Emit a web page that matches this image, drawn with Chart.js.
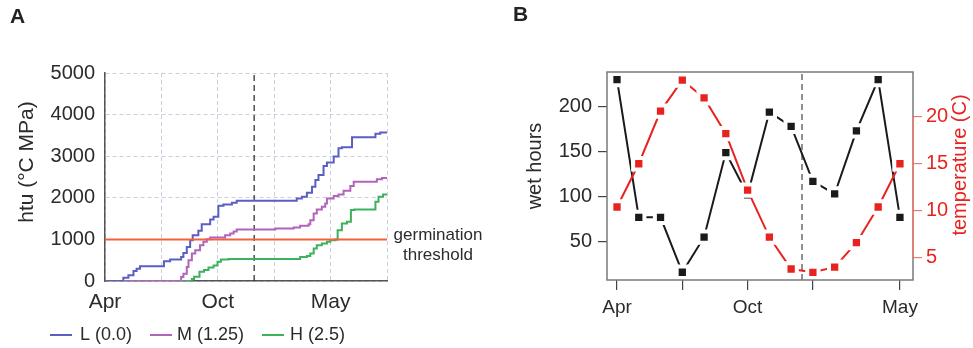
<!DOCTYPE html>
<html>
<head>
<meta charset="utf-8">
<script src="https://cdn.jsdelivr.net/npm/chart.js@4.4.0/dist/chart.umd.min.js"></script>
<style>
  html, body { margin: 0; padding: 0; background: #fff; }
  #wrap { position: relative; width: 973px; height: 348px; }
  #chartA { position: absolute; left: 0; top: 0; }
  #chartB { position: absolute; left: 490px; top: 0; }
</style>
</head>
<body>
<div id="wrap">
  <canvas id="chartA" width="490" height="348"></canvas>
  <canvas id="chartB" width="483" height="348"></canvas>
</div>
<script>
// ---- panel A: cumulative htu, x = position through the season (0..100)
const seasonTicks = [0, 20, 40, 60, 80, 100]
const seasonLabels = ['Apr', '', 'Oct', '', 'May', '']

const htuLx = [0, 6.5, 8.3, 10.1, 11.2, 12.4, 20.9, 23.1, 27.0, 27.8, 29.0, 30.2, 31.1, 33.1, 34.3, 37.3, 38.5, 40.2, 42.0, 45.0, 46.7, 68.0, 69.8, 71.6, 73.4, 74.6, 75.7, 77.5, 78.7, 81.1, 82.8, 84.0, 87.6, 95.9, 97.6, 100]
const htuLy = [0, 80, 137, 241, 297, 354, 475, 515, 579, 675, 820, 980, 1101, 1206, 1367, 1480, 1543, 1809, 1841, 1881, 1930, 1986, 2026, 2122, 2267, 2428, 2548, 2765, 2846, 2991, 3192, 3216, 3457, 3538, 3570, 3570]

const htuMx = [0, 27.0, 27.8, 29.0, 29.6, 30.8, 32.0, 33.7, 34.9, 36.1, 37.3, 42.6, 44.4, 45.6, 46.7, 60.4, 66.9, 69.2, 72.2, 72.8, 74.0, 75.1, 76.9, 78.1, 78.7, 81.1, 82.8, 84.6, 87.0, 88.2, 96.4, 98.2, 100]
const htuMy = [0, 96, 177, 338, 498, 659, 740, 860, 941, 1005, 1045, 1101, 1142, 1190, 1238, 1262, 1286, 1327, 1367, 1463, 1624, 1720, 1785, 1865, 1986, 2042, 2082, 2171, 2283, 2388, 2444, 2476, 2476]

const htuHx = [0, 30.8, 31.6, 33.5, 35.1, 36.7, 38.5, 39.9, 41.1, 43.8, 69.2, 71.6, 72.8, 74.0, 75.1, 76.9, 78.7, 79.9, 81.7, 82.5, 84.0, 85.8, 87.2, 88.4, 95.9, 97.0, 98.6, 100]
const htuHy = [0, 50, 104, 220, 265, 322, 370, 460, 515, 530, 579, 600, 659, 780, 860, 900, 941, 981, 1000, 1222, 1383, 1423, 1705, 1720, 1905, 2026, 2082, 2082]

const thresholdHtu = 1000
const markA = 52.9

// ---- panel B: monthly wet hours and temperature
const monthTickIdx = [0, 3, 6, 9, 13]
const monthTickLabels = ['Apr', '', 'Oct', '', 'May']
const wetHours = [230, 77, 77, 16, 55, 149, 102, 194, 178, 117, 103, 173, 230, 77]
const temperature = [10.4, 15.0, 20.6, 23.9, 22.0, 18.2, 12.2, 7.2, 3.8, 3.45, 4.0, 6.6, 10.4, 15.0]
const wetTicks = [50, 100, 150, 200]
const tempTicks = [5, 10, 15, 20]
const markB = 8.5

Chart.defaults.font.family = '"Liberation Sans", Arial, Helvetica, sans-serif'
Chart.defaults.color = '#2b2b2b'

const FONT = '"Liberation Sans", Arial, Helvetica, sans-serif'
const RED = '#e8231f'

function xy(xs, ys) {
    return xs.map((x, i) => ({x: x, y: ys[i]}))
}

function rotatedText(ctx, text, x, y, font, color) {
    ctx.save()
    ctx.translate(x, y)
    ctx.rotate(-Math.PI / 2)
    ctx.font = font
    ctx.fillStyle = color
    ctx.textAlign = 'center'
    ctx.textBaseline = 'middle'
    ctx.fillText(text, 0, 0)
    ctx.restore()
}

const textA = {
    id: 'textA',
    afterDraw(chart) {
        const ctx = chart.ctx
        ctx.save()
        ctx.fillStyle = '#222'
        ctx.font = 'bold 21px ' + FONT
        ctx.textBaseline = 'top'
        ctx.fillText('A', 10, 7)

        // threshold label
        const yt = chart.scales.y.getPixelForValue(thresholdHtu)
        ctx.font = '17px ' + FONT
        ctx.textAlign = 'center'
        ctx.textBaseline = 'middle'
        ctx.fillStyle = '#2b2b2b'
        ctx.fillText('germination', 438, yt - 4)
        ctx.fillText('threshold', 438, yt + 16)

        // legend
        const sx = [50, 150, 262], tx = [80, 177, 290]
        const items = chart.data.datasets.filter(d => d.inLegend)
        ctx.textAlign = 'left'
        ctx.font = '18px ' + FONT
        items.forEach((d, i) => {
            ctx.strokeStyle = d.borderColor
            ctx.lineWidth = 2
            ctx.beginPath()
            ctx.moveTo(sx[i], 335)
            ctx.lineTo(sx[i] + 22, 335)
            ctx.stroke()
            ctx.fillStyle = '#2b2b2b'
            ctx.fillText(d.label, tx[i], 335)
        })
        ctx.restore()
        rotatedText(ctx, 'htu (°C MPa)', 27, 162, '21px ' + FONT, '#2b2b2b')
    }
}

new Chart(document.getElementById('chartA'), {
    type: 'line',
    data: {
        datasets: [
            {label: 'L (0.0)', inLegend: true, data: xy(htuLx, htuLy), borderColor: '#5b5ec2', borderWidth: 2, stepped: 'before', pointRadius: 0, order: 2},
            {label: 'M (1.25)', inLegend: true, data: xy(htuMx, htuMy), borderColor: '#b263bb', borderWidth: 2, stepped: 'before', pointRadius: 0, order: 3},
            {label: 'H (2.5)', inLegend: true, data: xy(htuHx, htuHy), borderColor: '#3db15e', borderWidth: 2, stepped: 'before', pointRadius: 0, order: 4},
            {label: 'germination threshold', data: [{x: 0, y: thresholdHtu}, {x: 100, y: thresholdHtu}], borderColor: '#f2603c', borderWidth: 2, pointRadius: 0, order: 1},
            {label: 'mark', data: [{x: markA, y: 0}, {x: markA, y: 5000}], borderColor: '#333', borderWidth: 1.3, borderDash: [6, 4], pointRadius: 0, order: 5}
        ]
    },
    options: {
        responsive: false,
        animation: false,
        layout: {padding: {top: 73, left: 0, right: 103, bottom: 0}},
        plugins: {legend: {display: false}, tooltip: {enabled: false}},
        scales: {
            x: {
                type: 'linear', min: 0, max: 100,
                afterBuildTicks: s => { s.ticks = seasonTicks.map(v => ({value: v})) },
                ticks: {callback: (v, i) => seasonLabels[i], font: {size: 21}, padding: 9, maxRotation: 0, autoSkip: false},
                grid: {color: '#c9cfe0', drawTicks: false},
                border: {color: '#555', width: 1.5, dash: [4, 3]},
                afterFit: s => { s.height = 67; s.paddingLeft = 0; s.paddingRight = 0 }
            },
            y: {
                min: 0, max: 5000,
                ticks: {stepSize: 1000, font: {size: 20}, padding: 10, callback: v => String(v)},
                grid: {color: '#c9cfe0', drawTicks: false},
                border: {color: '#555', width: 1.5, dash: [4, 3]},
                afterFit: s => { s.width = 105; s.paddingTop = 0; s.paddingBottom = 0 }
            }
        }
    },
    plugins: [textA]
})

const frameB = {
    id: 'frameB',
    afterDraw(chart) {
        const {ctx, chartArea: a} = chart
        ctx.save()
        ctx.strokeStyle = '#7a7a7a'
        ctx.lineWidth = 1.5
        ctx.strokeRect(a.left, a.top, a.right - a.left, a.bottom - a.top)
        const y1 = chart.scales.y1
        ctx.strokeStyle = '#f07a70'
        ctx.beginPath()
        ctx.moveTo(a.right, y1.getPixelForValue(tempTicks[0]))
        ctx.lineTo(a.right, y1.getPixelForValue(tempTicks[tempTicks.length - 1]))
        ctx.stroke()

        ctx.fillStyle = '#222'
        ctx.font = 'bold 21px ' + FONT
        ctx.textBaseline = 'top'
        ctx.fillText('B', 23, 5)
        ctx.restore()
        rotatedText(ctx, 'wet hours', 45, 166, '20px ' + FONT, '#2b2b2b')
        rotatedText(ctx, 'temperature (C)', 470, 165, '20px ' + FONT, RED)
    }
}

new Chart(document.getElementById('chartB'), {
    type: 'line',
    data: {
        datasets: [
            {label: 'wet hours', data: wetHours.map((v, i) => ({x: i, y: v})), yAxisID: 'y',
             borderColor: '#1a1a1a', borderWidth: 2, pointStyle: 'rect', pointRadius: 8,
             pointBackgroundColor: '#1a1a1a', pointBorderColor: '#fff', pointBorderWidth: 4, order: 2},
            {label: 'temperature', data: temperature.map((v, i) => ({x: i, y: v})), yAxisID: 'y1',
             borderColor: RED, borderWidth: 2, pointStyle: 'rect', pointRadius: 8,
             pointBackgroundColor: RED, pointBorderColor: '#fff', pointBorderWidth: 4, order: 1},
            {label: 'mark', data: [{x: markB, y: 7.4}, {x: markB, y: 238.5}], yAxisID: 'y',
             borderColor: '#555', borderWidth: 1.3, borderDash: [6, 4], pointRadius: 0, order: 3}
        ]
    },
    options: {
        responsive: false,
        animation: false,
        layout: {padding: {top: 72, left: 0, right: 0, bottom: 0}},
        plugins: {legend: {display: false}, tooltip: {enabled: false}},
        scales: {
            x: {
                type: 'linear', min: -0.46, max: 13.6,
                afterBuildTicks: s => { s.ticks = monthTickIdx.map(v => ({value: v})) },
                ticks: {callback: (v, i) => monthTickLabels[i], font: {size: 19}, padding: 6, maxRotation: 0, autoSkip: false},
                grid: {drawOnChartArea: false, tickLength: 10, color: '#444', lineWidth: 1.2},
                border: {display: false},
                afterFit: s => { s.height = 68; s.paddingLeft = 0; s.paddingRight = 0 }
            },
            y: {
                position: 'left', min: 7.4, max: 238.5,
                afterBuildTicks: s => { s.ticks = wetTicks.map(v => ({value: v})) },
                ticks: {font: {size: 20}, padding: 6},
                grid: {drawOnChartArea: false, tickLength: 9, color: '#444', lineWidth: 1.2},
                border: {display: false},
                afterFit: s => { s.width = 117; s.paddingTop = 0; s.paddingBottom = 0 }
            },
            y1: {
                position: 'right', min: 2.63, max: 24.76,
                afterBuildTicks: s => { s.ticks = tempTicks.map(v => ({value: v})) },
                ticks: {font: {size: 20}, padding: 4, color: RED},
                grid: {drawOnChartArea: false, tickLength: 9, color: '#f07a70', lineWidth: 1.2},
                border: {display: false},
                afterFit: s => { s.width = 60; s.paddingTop = 0; s.paddingBottom = 0 }
            }
        }
    },
    plugins: [frameB]
})
</script>
</body>
</html>
